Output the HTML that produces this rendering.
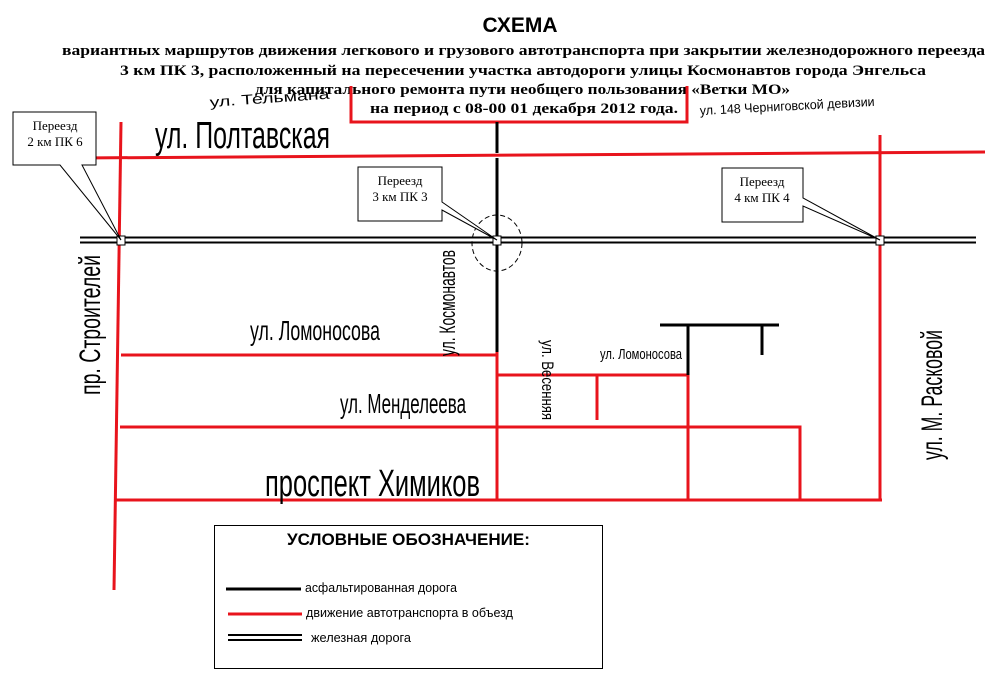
<!DOCTYPE html>
<html><head><meta charset="utf-8"><style>
html,body{margin:0;padding:0;background:#fff;}
svg{display:block;}
.s{font-family:"Liberation Serif",serif;font-weight:bold;}
.a{font-family:"Liberation Sans",sans-serif;}
</style></head><body>
<svg width="1000" height="684" viewBox="0 0 1000 684" xmlns="http://www.w3.org/2000/svg">
<!-- title -->
<text x="520" y="32" class="a" font-weight="bold" font-size="21" text-anchor="middle">СХЕМА</text>
<text x="62" y="55" class="s" font-size="14.5" textLength="923" lengthAdjust="spacingAndGlyphs">вариантных маршрутов движения легкового и грузового автотранспорта при закрытии железнодорожного переезда</text>
<text x="120" y="75" class="s" font-size="14.5" textLength="806" lengthAdjust="spacingAndGlyphs">3 км ПК 3, расположенный на пересечении участка автодороги улицы Космонавтов города Энгельса</text>
<text x="255" y="94" class="s" font-size="14.5" textLength="535" lengthAdjust="spacingAndGlyphs">для капитального ремонта пути необщего пользования «Ветки МО»</text>
<text x="370" y="113" class="s" font-size="14.5" textLength="308" lengthAdjust="spacingAndGlyphs">на период с 08-00 01 декабря 2012 года.</text>

<g stroke="#e8141c" stroke-width="3" fill="none">
<polyline points="351,86 351,122 687,122 687,86"/>
<line x1="80" y1="158" x2="985" y2="152"/>
<line x1="121" y1="122" x2="114" y2="590"/>
<line x1="880" y1="135" x2="880" y2="500"/>
<line x1="121" y1="355" x2="497" y2="355"/>
<line x1="497" y1="352" x2="497" y2="500"/>
<line x1="497" y1="375" x2="688" y2="375"/>
<line x1="597" y1="375" x2="597" y2="420"/>
<line x1="688" y1="375" x2="688" y2="500"/>
<polyline points="120,427 800,427 800,500"/>
<line x1="115" y1="500" x2="882" y2="500"/>
</g>
<!-- black roads -->
<g stroke="#000" stroke-width="3" fill="none">
<line x1="497" y1="122" x2="497" y2="153"/>
<line x1="497" y1="158" x2="497" y2="352"/>
<line x1="688" y1="325" x2="688" y2="375"/>
<line x1="660" y1="325" x2="779" y2="325"/>
<line x1="762" y1="325" x2="762" y2="355"/>
</g>
<!-- railway -->
<g stroke="#000" stroke-width="2">
<line x1="80" y1="237.5" x2="976" y2="237.5"/>
<line x1="80" y1="242.5" x2="976" y2="242.5"/>
</g>
<g fill="#fff" stroke="#000" stroke-width="1">
<rect x="117" y="236" width="8" height="9"/>
<rect x="493" y="236" width="8" height="9"/>
<rect x="876" y="236" width="8" height="9"/>
</g>
<ellipse cx="497" cy="243" rx="25" ry="28" fill="none" stroke="#000" stroke-dasharray="5,3"/>
<!-- callouts -->
<g stroke="#000" stroke-width="1" fill="#fff">
<polygon points="13,112 96,112 96,165 82,165 121,240 60,165 13,165"/>
<polygon points="358,167 442,167 442,202 497,240 442,210 442,221 358,221"/>
<polygon points="722,168 803,168 803,198 880,240 803,206 803,222 722,222"/>
</g>
<g font-family="Liberation Serif,serif" font-size="13" text-anchor="middle">
<text x="55" y="130">Переезд</text><text x="55" y="146">2 км ПК 6</text>
<text x="400" y="185">Переезд</text><text x="400" y="201">3 км ПК 3</text>
<text x="762" y="186">Переезд</text><text x="762" y="202">4 км ПК 4</text>
</g>
<!-- labels -->
<g class="a">
<text x="210" y="107" font-size="14" transform="rotate(-4 210 107)" textLength="120" lengthAdjust="spacingAndGlyphs">ул. Тельмана</text>
<text x="155" y="148" font-size="38" textLength="175" lengthAdjust="spacingAndGlyphs">ул. Полтавская</text>
<text x="700" y="115" font-size="13" transform="rotate(-3 700 115)" textLength="175" lengthAdjust="spacingAndGlyphs">ул. 148 Черниговской девизии</text>
<text x="0" y="0" font-size="30" transform="translate(100,395) rotate(-90)" textLength="140" lengthAdjust="spacingAndGlyphs">пр. Строителей</text>
<text x="0" y="0" font-size="22" transform="translate(455,356) rotate(-90)" textLength="106" lengthAdjust="spacingAndGlyphs">ул. Космонавтов</text>
<text x="250" y="340" font-size="28" textLength="130" lengthAdjust="spacingAndGlyphs">ул. Ломоносова</text>
<text x="340" y="413" font-size="28" textLength="126" lengthAdjust="spacingAndGlyphs">ул. Менделеева</text>
<text x="265" y="496" font-size="38" textLength="215" lengthAdjust="spacingAndGlyphs">проспект Химиков</text>
<text x="0" y="0" font-size="17" transform="translate(542,340) rotate(90)" textLength="80" lengthAdjust="spacingAndGlyphs">ул. Весенняя</text>
<text x="600" y="359" font-size="15" textLength="82" lengthAdjust="spacingAndGlyphs">ул. Ломоносова</text>
<text x="0" y="0" font-size="30" transform="translate(942,460) rotate(-90)" textLength="130" lengthAdjust="spacingAndGlyphs">ул. М. Расковой</text>
</g>
<!-- legend -->
<rect x="214.5" y="525.5" width="388" height="143" fill="#fff" stroke="#000" stroke-width="1"/>
<text x="287" y="545" class="a" font-weight="bold" font-size="17" textLength="243" lengthAdjust="spacingAndGlyphs">УСЛОВНЫЕ ОБОЗНАЧЕНИЕ:</text>
<line x1="226" y1="589" x2="301" y2="589" stroke="#000" stroke-width="3"/>
<line x1="228" y1="614" x2="302" y2="614" stroke="#e8141c" stroke-width="3"/>
<line x1="228" y1="635" x2="302" y2="635" stroke="#000" stroke-width="2"/>
<line x1="228" y1="640" x2="302" y2="640" stroke="#000" stroke-width="2"/>
<g class="a" font-size="13">
<text x="305" y="592" textLength="152" lengthAdjust="spacingAndGlyphs">асфальтированная дорога</text>
<text x="306" y="617" textLength="207" lengthAdjust="spacingAndGlyphs">движение автотранспорта в объезд</text>
<text x="311" y="642" textLength="100" lengthAdjust="spacingAndGlyphs">железная дорога</text>
</g>
</svg>
</body></html>
